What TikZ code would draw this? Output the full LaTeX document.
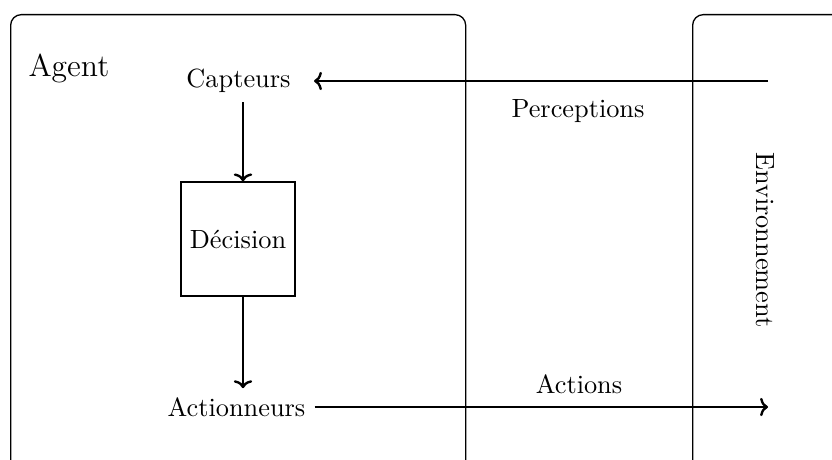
\documentclass[tikz,border=0pt]{standalone}
\usetikzlibrary{calc,arrows.meta}

\tikzset{
  frame/.style={draw, line width=0.5pt, rounded corners=4pt, anchor=north west, inner sep=0pt},
  unit/.style={font=\fontsize{10}{12}\selectfont, minimum width=57pt, inner sep=3.33pt},
  decbox/.style={draw, line width=0.55pt, minimum size=43.3pt, inner sep=0pt, font=\fontsize{10}{12}\selectfont},
  flow/.style={-{To[length=3pt, width=7pt]}, line width=0.9pt},
  lbl/.style={font=\fontsize{10}{12}\selectfont}
}

\begin{document}
\begin{tikzpicture}[x=0.38pt, y=-0.38pt]
  \useasboundingbox (0,0) rectangle (832,459);
  \clip (0,0) rectangle (832,459);

  % containers (open towards the bottom and right)
  \node[frame, minimum width=455*0.38pt, minimum height=520*0.38pt] (agent) at (10,14) {};
  \node[frame, minimum width=300*0.38pt, minimum height=520*0.38pt] (env) at (692,14) {};

  \node[anchor=base west, inner sep=0pt, font=\fontsize{12}{14}\selectfont] (agentlbl) at (28,77) {Agent};
  \node[lbl, rotate=-90] (envlbl) at (765,240) {Environnement};

  % agent internals
  \node[unit] (capt) at (238.5,81) {Capteurs};
  \node[decbox] (dec) at (238,239) {Décision};
  \node[unit] (act) at (236.5,407) {Actionneurs};

  % anchor points inside the environment and the internal arrow column
  \coordinate (envin) at (768,81);
  \coordinate (envout) at (768,407);
  \coordinate (col) at (243,0);

  \draw[flow] (envin) -- (capt.east);
  \draw[flow] (capt.south -| col) -- (dec.north -| col);
  \draw[flow] (dec.south -| col) -- (act.north -| col);
  \draw[flow] (act.east) -- (envout);

  \node[lbl] (perc) at (578,111) {Perceptions};
  \node[lbl] (actlbl) at (579,384) {Actions};
\end{tikzpicture}
\end{document}
